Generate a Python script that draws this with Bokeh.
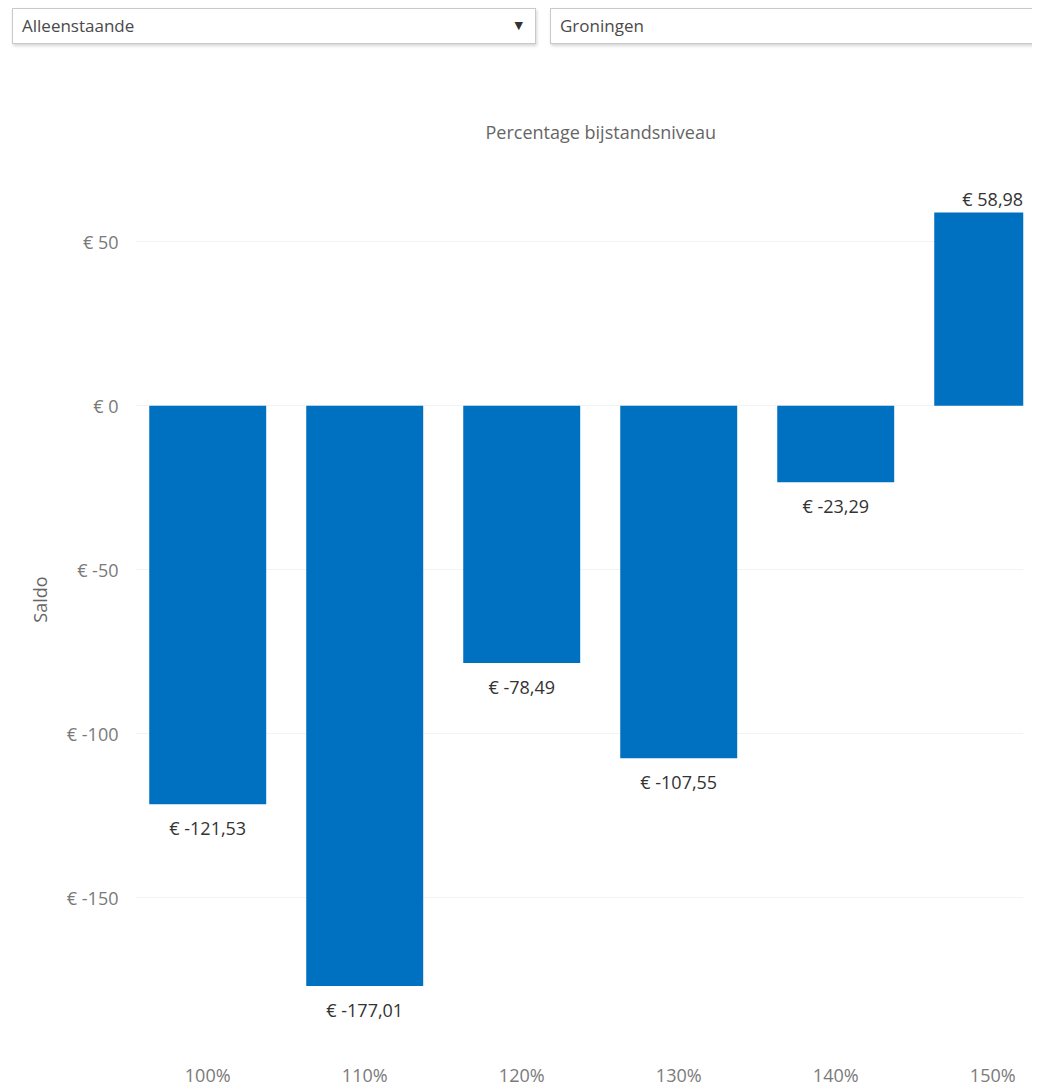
from bokeh.plotting import figure
from bokeh.layouts import column
from bokeh.models import Range1d, FixedTicker, ColumnDataSource, Div
from bokeh.core.properties import value
from bokeh.embed import file_html
from bokeh.resources import INLINE

# ---- data ----
categories = ["100%", "110%", "120%", "130%", "140%", "150%"]
saldo = [-121.53, -177.01, -78.49, -107.55, -23.29, 58.98]
y_ticks = [-150, -100, -50, 0, 50]
household = "Alleenstaande"
municipality = "Groningen"
x_title = "Percentage bijstandsniveau"
y_title = "Saldo"

FONT = "Open Sans"
BAR_COLOR = "#0070c0"
FS = "18px"

def euro(v):
    return ("€ %.2f" % v).replace(".", ",")

def euro_tick(v):
    return "€ %d" % v

# ---- top "dropdown" strip (HTML) ----
box_css = ("position:absolute;top:8px;height:36px;box-sizing:border-box;"
           "background:#fff;border:1px solid #c9c9c9;box-shadow:1px 2px 3px #d6d6d6;")
txt_css = "position:absolute;left:9px;top:5px;line-height:24px;"
html = (
    f'<div style="position:relative;width:1032px;height:56px;overflow:hidden;'
    f'font-family:\'{FONT}\';font-size:17px;color:#4a4a4a;">'
    f'<div style="{box_css}left:12px;width:524px;">'
    f'<span style="{txt_css}">{household}</span>'
    f'<span style="position:absolute;right:12px;top:7px;font-size:11px;line-height:20px;'
    f'font-family:\'DejaVu Sans\';color:#333;">&#9660;</span></div>'
    f'<div style="{box_css}left:550px;width:520px;border-right:none;">'
    f'<span style="{txt_css}">{municipality}</span></div>'
    f'</div>'
)
top = Div(text=html, width=1032, height=56, margin=(0, 0, 0, 0))

# ---- main chart ----
xs = list(range(len(categories)))
px_per_unit = 3.3
frame_h = 908
zero_from_top = 259
y_top = zero_from_top / px_per_unit
y_bot = -(frame_h - zero_from_top) / px_per_unit

p = figure(width=1032, height=1033, x_range=Range1d(-0.46, 5.196), y_range=Range1d(y_bot, y_top),
           toolbar_location=None, output_backend="svg",
           min_border_left=135, min_border_right=9, min_border_top=92, min_border_bottom=33)
p.margin = (0, 0, 0, 0)
p.outline_line_color = None
p.background_fill_color = "white"

p.title.text = x_title
p.title.align = "left"
p.title.offset = 350
p.title.text_font = FONT
p.title.text_font_size = FS
p.title.text_font_style = "normal"
p.title.text_color = "#666666"

src = ColumnDataSource(dict(
    x=xs, top=saldo, label=[euro(v) for v in saldo],
    yoff=[24 if v < 0 else -13 for v in saldo],
))
p.vbar(x="x", top="top", bottom=0, width=0.745, source=src, fill_color=BAR_COLOR, line_color=None)
p.text(x="x", y="top", text="label", y_offset="yoff", source=src,
       text_font=value(FONT), text_font_size=FS, text_color="#333333",
       text_align="center", text_baseline="middle")

p.xgrid.visible = False
p.ygrid.grid_line_color = "#f3f3f3"
p.ygrid.ticker = FixedTicker(ticks=y_ticks)

p.yaxis.ticker = FixedTicker(ticks=y_ticks)
p.yaxis.major_label_overrides = {t: euro_tick(t) for t in y_ticks}
p.yaxis.axis_label = y_title
p.yaxis.axis_label_standoff = 12
p.yaxis.axis_label_text_font = FONT
p.yaxis.axis_label_text_font_size = FS
p.yaxis.axis_label_text_font_style = "normal"
p.yaxis.axis_label_text_color = "#666666"
p.yaxis.major_label_standoff = 11

p.xaxis.ticker = FixedTicker(ticks=xs)
p.xaxis.major_label_overrides = {i: c for i, c in zip(xs, categories)}
p.xaxis.major_label_standoff = 6

for ax in (p.xaxis, p.yaxis):
    ax.axis_line_color = None
    ax.major_tick_line_color = None
    ax.minor_tick_line_color = None
    ax.major_label_text_font = FONT
    ax.major_label_text_font_size = FS
    ax.major_label_text_color = "#7a7a7a"

layout = column(top, p, spacing=0)
open("out.html", "w").write(file_html(layout, INLINE))
